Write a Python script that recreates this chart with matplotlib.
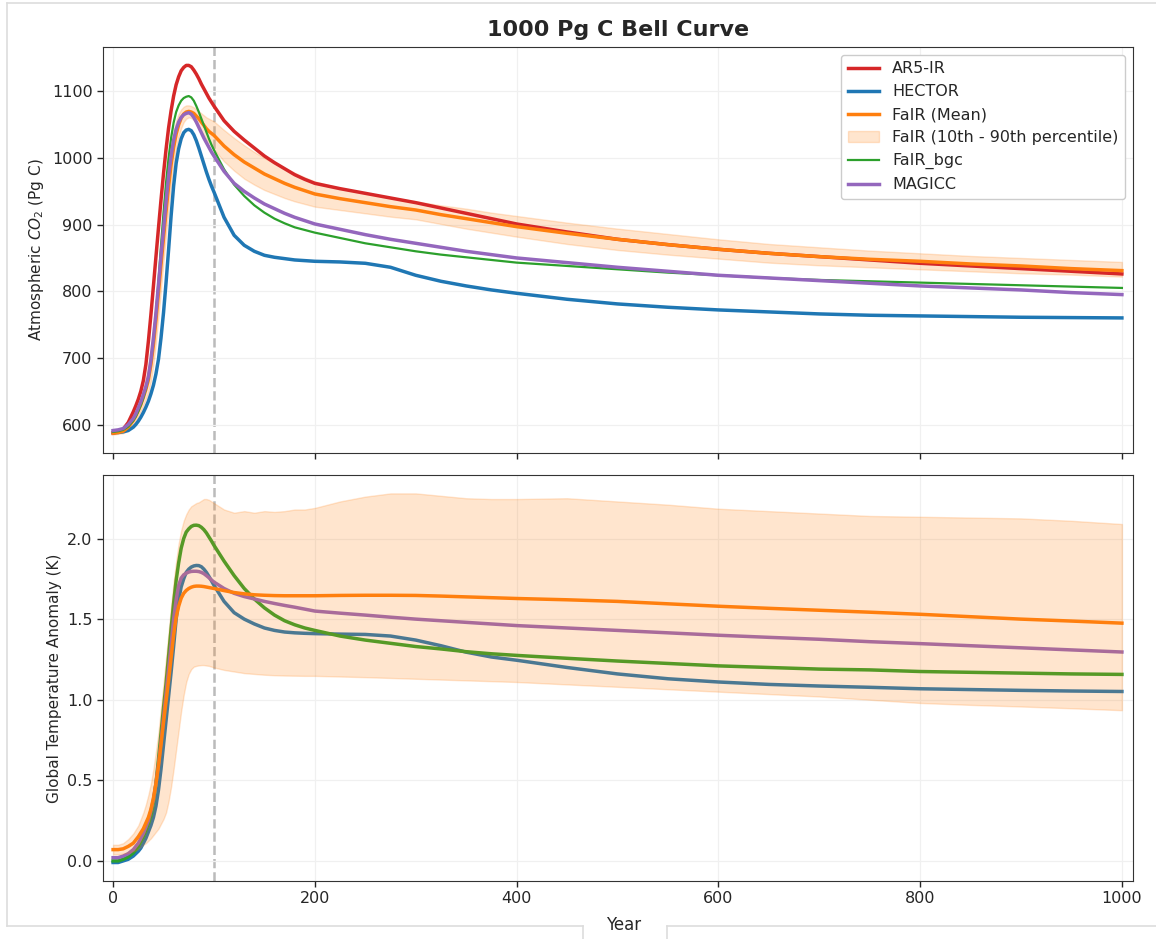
import matplotlib
matplotlib.use('Agg')
import matplotlib.pyplot as plt
from matplotlib.lines import Line2D

# sample years shared by every series (finer steps through the emission pulse)
years = [0, 5, 10, 15,
         20, 22.5, 25, 27.5, 30, 32.5, 35, 37.5, 40, 42.5, 45, 47.5, 50, 52.5, 55, 57.5,
         60, 62.5, 65, 67.5, 70, 72.5, 75, 77.5, 80, 82.5, 85, 87.5, 90, 92.5, 95, 97.5, 100,
         110, 120, 130, 140, 150, 160, 170, 180, 190, 200,
         225, 250, 275, 300, 325, 350, 375, 400,
         450, 500, 550, 600, 650, 700, 750, 800, 850, 900, 950, 1000]

# atmospheric CO2 (Pg C)
co2_ar5 = [587, 589, 593, 603,
           619, 628, 638, 650, 666, 690, 725, 765, 808, 852, 895, 937, 977, 1013, 1045, 1071,
           1093, 1110, 1122, 1131, 1136, 1139, 1139, 1137, 1132, 1126, 1119, 1111, 1104, 1097, 1090, 1084, 1078,
           1056, 1040, 1027, 1015, 1003, 993, 984, 975, 968, 962,
           954, 947, 940, 933, 925, 917, 909, 901,
           889, 878, 870, 863, 857, 852, 847, 842, 838, 834, 830, 826]
co2_hector = [588, 588, 589, 591,
              596, 600, 605, 611, 618, 626, 635, 646, 659, 676, 698, 730, 768, 813, 862, 913,
              958, 992, 1014, 1029, 1038, 1042, 1043, 1041, 1035, 1026, 1015, 1003, 991, 979, 968, 958, 949,
              911, 884, 869, 860, 854, 851, 849, 847, 846, 845,
              844, 842, 836, 824, 815, 808, 802, 797,
              788, 781, 776, 772, 769, 766, 764, 763, 762, 761, 760.5, 760]
co2_fair = [587, 588, 590, 596,
            606, 613, 621, 630, 641, 653, 667, 690, 720, 757, 798, 840, 880, 920, 957, 990,
            1016, 1036, 1050, 1060, 1066, 1069, 1070, 1069, 1067, 1063, 1059, 1054, 1049, 1044, 1040, 1037, 1034,
            1018, 1005, 994, 985, 976, 969, 962, 956, 951, 946,
            939, 933, 927, 922, 915, 909, 903, 897,
            887, 878, 870, 863, 857, 852, 848, 845, 841, 838, 834, 831]
co2_fair_p90 = [590, 591, 595, 603,
                612, 620, 630, 641, 654, 670, 690, 718, 752, 792, 835, 877, 917, 955, 990, 1018,
                1040, 1056, 1066, 1073, 1077, 1079, 1079, 1078, 1076, 1073, 1070, 1067, 1064, 1061, 1059, 1057, 1055,
                1042, 1030, 1019, 1009, 1000, 992, 985, 978, 971, 965,
                955, 947, 941, 935, 929, 924, 918, 913,
                903, 894, 886, 878, 871, 866, 861, 857, 853, 850, 847, 844]
co2_fair_p10 = [585, 586, 587, 591,
                600, 606, 613, 620, 629, 638, 648, 665, 690, 723, 762, 803, 845, 885, 924, 960,
                990, 1014, 1032, 1045, 1054, 1059, 1061, 1060, 1057, 1052, 1046, 1040, 1034, 1028, 1023, 1018, 1013,
                995, 981, 969, 960, 952, 946, 940, 935, 931, 927,
                922, 917, 912, 908, 901, 894, 888, 882,
                871, 862, 855, 849, 843, 839, 836, 833, 830, 827, 825, 822]
co2_fair_bgc = [589, 590, 592, 597,
                606, 612, 620, 629, 640, 653, 670, 695, 728, 768, 815, 868, 918, 963, 1000, 1030,
                1053, 1069, 1079, 1086, 1090, 1092, 1093, 1091, 1086, 1078, 1069, 1059, 1049, 1039, 1029, 1020, 1012,
                983, 960, 943, 929, 918, 909, 902, 896, 892, 888,
                880, 872, 866, 860, 855, 851, 847, 843,
                838, 833, 828, 824, 820, 817, 815, 813, 811, 809, 807, 805]
co2_magicc = [591, 592, 594, 600,
              609, 616, 625, 634, 645, 657, 672, 697, 730, 767, 810, 853, 893, 935, 973, 1003,
              1027, 1043, 1054, 1061, 1065, 1067, 1068, 1066, 1061, 1054, 1046, 1038, 1030, 1023, 1016, 1009, 1003,
              980, 962, 950, 940, 931, 924, 917, 911, 906, 901,
              893, 885, 878, 872, 866, 860, 855, 850,
              843, 836, 830, 824, 820, 816, 812, 808, 805, 802, 798, 795]

# global temperature anomaly (K)
tas_hector = [-0.01, -0.01, 0.0, 0.01,
              0.03, 0.045, 0.06, 0.08, 0.11, 0.14, 0.18, 0.22, 0.27, 0.34, 0.44, 0.57, 0.72, 0.87, 1.02, 1.17,
              1.33, 1.5, 1.62, 1.7, 1.75, 1.79, 1.81, 1.823, 1.83, 1.833, 1.832, 1.825, 1.81, 1.79, 1.765, 1.738, 1.71,
              1.61, 1.54, 1.5, 1.47, 1.445, 1.43, 1.42, 1.415, 1.412, 1.41,
              1.407, 1.405, 1.395, 1.37, 1.335, 1.295, 1.265, 1.245,
              1.2, 1.16, 1.13, 1.11, 1.095, 1.085, 1.077, 1.068, 1.063, 1.058, 1.054, 1.051]
tas_fair = [0.07, 0.07, 0.075, 0.09,
            0.11, 0.13, 0.15, 0.175, 0.2, 0.235, 0.27, 0.32, 0.39, 0.48, 0.59, 0.72, 0.86, 0.99, 1.12, 1.26,
            1.4, 1.51, 1.58, 1.63, 1.66, 1.678, 1.69, 1.698, 1.703, 1.705, 1.705, 1.704, 1.702, 1.699, 1.696, 1.693, 1.69,
            1.677, 1.665, 1.657, 1.651, 1.648, 1.646, 1.645, 1.645, 1.645, 1.645,
            1.647, 1.648, 1.648, 1.647, 1.643, 1.638, 1.633, 1.628,
            1.62, 1.61, 1.595, 1.58, 1.567, 1.555, 1.543, 1.53, 1.515, 1.5, 1.488, 1.475]
tas_fair_p90 = [0.1, 0.1, 0.11, 0.135,
                0.17, 0.195, 0.22, 0.26, 0.3, 0.35, 0.41, 0.48, 0.57, 0.68, 0.8, 0.95, 1.1, 1.26, 1.42, 1.58,
                1.73, 1.86, 1.97, 2.05, 2.11, 2.15, 2.18, 2.2, 2.21, 2.22, 2.225, 2.235, 2.245, 2.245, 2.24, 2.23, 2.22,
                2.18, 2.16, 2.17, 2.16, 2.17, 2.165, 2.17, 2.18, 2.18, 2.19,
                2.23, 2.26, 2.28, 2.28, 2.265, 2.25, 2.245, 2.245,
                2.25, 2.23, 2.21, 2.185, 2.17, 2.155, 2.14, 2.135, 2.13, 2.125, 2.11, 2.09]
tas_fair_p10 = [0.04, 0.04, 0.045, 0.05,
                0.06, 0.065, 0.075, 0.085, 0.1, 0.11, 0.125, 0.14, 0.16, 0.18, 0.2, 0.23, 0.26, 0.3, 0.37, 0.46,
                0.57, 0.69, 0.81, 0.93, 1.03, 1.11, 1.16, 1.19, 1.205, 1.21, 1.213, 1.215, 1.215, 1.212, 1.21, 1.205, 1.2,
                1.185, 1.175, 1.165, 1.16, 1.155, 1.152, 1.15, 1.149, 1.148, 1.148,
                1.144, 1.14, 1.135, 1.13, 1.125, 1.12, 1.115, 1.11,
                1.095, 1.08, 1.065, 1.05, 1.035, 1.02, 1.0, 0.98, 0.968, 0.958, 0.947, 0.935]
tas_fair_bgc = [0.0, 0.0, 0.01, 0.025,
                0.05, 0.07, 0.09, 0.12, 0.15, 0.19, 0.23, 0.28, 0.36, 0.48, 0.63, 0.79, 0.95, 1.1, 1.27, 1.44,
                1.6, 1.74, 1.85, 1.94, 2.0, 2.04, 2.06, 2.075, 2.082, 2.083, 2.08, 2.07, 2.055, 2.035, 2.01, 1.985, 1.958,
                1.86, 1.77, 1.69, 1.625, 1.57, 1.525, 1.49, 1.465, 1.445, 1.43,
                1.395, 1.37, 1.35, 1.33, 1.315, 1.298, 1.285, 1.275,
                1.257, 1.24, 1.225, 1.21, 1.2, 1.19, 1.185, 1.175, 1.17, 1.165, 1.16, 1.157]
tas_magicc = [0.02, 0.02, 0.03, 0.045,
              0.07, 0.09, 0.11, 0.14, 0.17, 0.21, 0.25, 0.31, 0.38, 0.48, 0.6, 0.74, 0.89, 1.04, 1.19, 1.34,
              1.5, 1.62, 1.71, 1.755, 1.775, 1.785, 1.792, 1.796, 1.797, 1.797, 1.795, 1.79, 1.782, 1.77, 1.757, 1.743, 1.73,
              1.69, 1.66, 1.64, 1.625, 1.61, 1.597, 1.585, 1.574, 1.562, 1.55,
              1.537, 1.525, 1.512, 1.5, 1.49, 1.48, 1.47, 1.46,
              1.445, 1.43, 1.415, 1.4, 1.387, 1.375, 1.36, 1.348, 1.335, 1.322, 1.309, 1.296]

emission_end = 100
co2_ticks = [600, 700, 800, 900, 1000, 1100]
tas_ticks = [0.0, 0.5, 1.0, 1.5, 2.0]
year_ticks = [0, 200, 400, 600, 800, 1000]

plt.rcParams.update({
    'font.family': 'DejaVu Sans',
    'font.size': 11,
    'text.color': '.15',
    'axes.labelcolor': '.15',
    'axes.edgecolor': '.2',
    'xtick.color': '.15',
    'ytick.color': '.15',
    'xtick.labelsize': 11.5,
    'ytick.labelsize': 11.5,
})

fig = plt.figure(figsize=(11.56, 9.39), dpi=100)
ax1 = fig.add_axes([0.0891, 0.5176, 0.891, 0.4324])
ax2 = fig.add_axes([0.0891, 0.0618, 0.891, 0.4324], sharex=ax1)

for ax in (ax1, ax2):
    ax.grid(True, color='#f0f0f0', linewidth=0.9)
    ax.set_axisbelow(True)
    ax.tick_params(length=4, width=1)
    ax.axvline(emission_end, color='#bbbbbb', linestyle='--', linewidth=1.8, zorder=0.5)

# top: CO2
ax1.plot(years, co2_ar5, color='#d62728', linewidth=2.5, label='AR5-IR')
ax1.plot(years, co2_hector, color='#1f77b4', linewidth=2.5, label='HECTOR')
ax1.plot(years, co2_fair, color='#ff7f0e', linewidth=2.5, label='FaIR (Mean)')
ax1.fill_between(years, co2_fair_p10, co2_fair_p90, color='#ff7f0e', alpha=0.2,
                 label='FaIR (10th - 90th percentile)')
ax1.plot(years, co2_fair_bgc, color='#2ca02c', linewidth=1.6, label='FaIR_bgc')
ax1.plot(years, co2_magicc, color='#9467bd', linewidth=2.5, label='MAGICC')
ax1.set_ylabel('Atmospheric $CO_2$ (Pg C)')
ax1.set_yticks(co2_ticks)
ax1.tick_params(axis='x', labelbottom=False)
ax1.legend(loc='upper right', fontsize=11.5, edgecolor='#cccccc', framealpha=1)

# bottom: temperature, percentile band laid over the other models
ax2.plot(years, tas_hector, color='#1f77b4', linewidth=2.5)
ax2.plot(years, tas_fair_bgc, color='#2ca02c', linewidth=2.5)
ax2.plot(years, tas_magicc, color='#9467bd', linewidth=2.5)
ax2.fill_between(years, tas_fair_p10, tas_fair_p90, color='#ff7f0e', alpha=0.2, zorder=2.5)
ax2.plot(years, tas_fair, color='#ff7f0e', linewidth=2.5, zorder=3)
ax2.set_ylabel('Global Temperature Anomaly (K)')
ax2.set_yticks(tas_ticks)
ax2.set_xticks(year_ticks)
ax2.set_xlim(-10, 1011)

fig.text(0.5346, 0.9680, '1000 Pg C Bell Curve', ha='center', va='center',
         fontsize=16, fontweight='bold')
fig.text(0.5398, 0.0149, 'Year', ha='center', va='center', fontsize=12)

# light page frame around the figure
frame = dict(color='#dddddd', linewidth=1.2, transform=fig.transFigure)
fig.add_artist(Line2D([0.0061, 1.0], [0.9968, 0.9968], **frame))
fig.add_artist(Line2D([0.0061, 0.0061], [0.0138, 0.9968], **frame))
fig.add_artist(Line2D([0.0061, 0.5043], [0.0138, 0.0138], **frame))
fig.add_artist(Line2D([0.577, 1.0], [0.0138, 0.0138], **frame))
fig.add_artist(Line2D([0.5043, 0.5043], [0.0, 0.0138], **frame))
fig.add_artist(Line2D([0.577, 0.577], [0.0, 0.0138], **frame))

fig.savefig('out.png', dpi=100)
